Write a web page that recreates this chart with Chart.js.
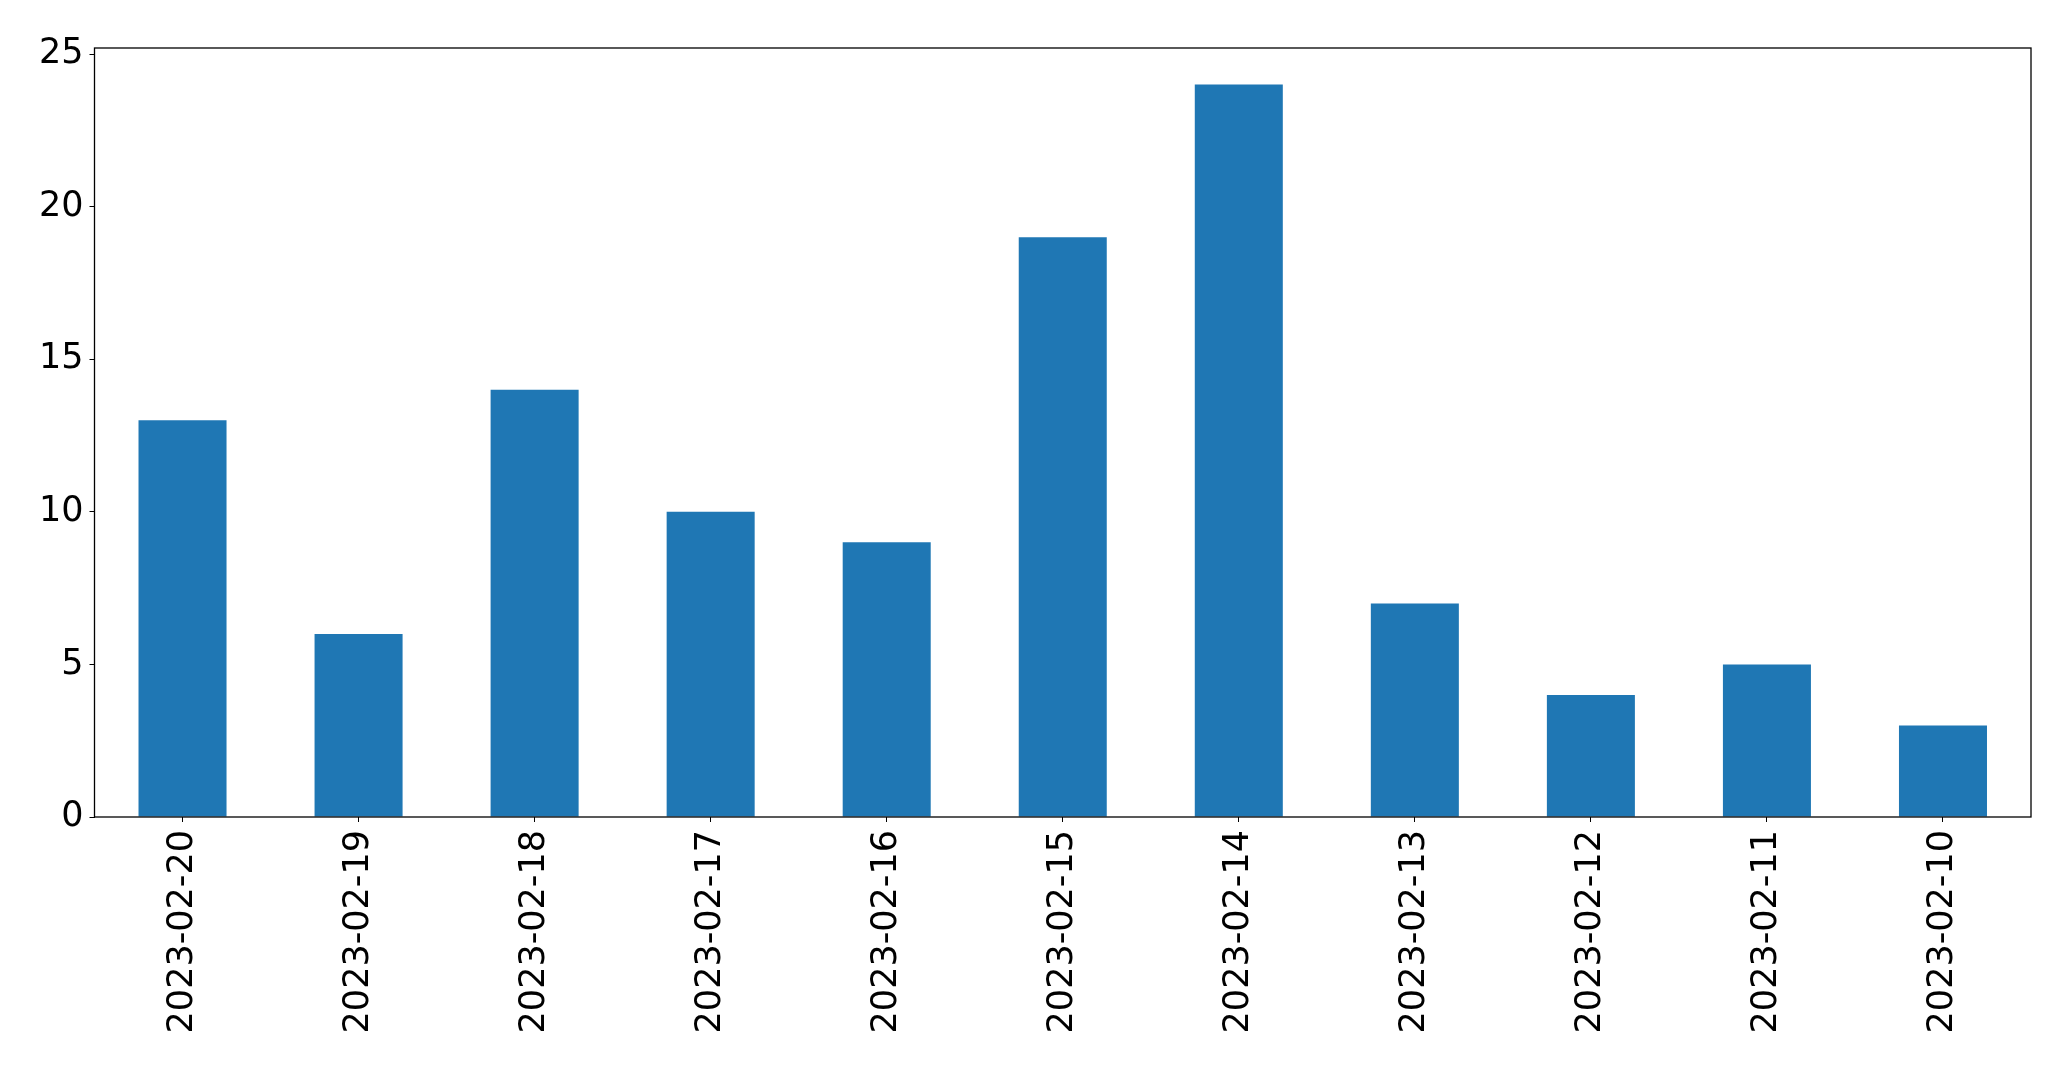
<!DOCTYPE html>
<html>
<head>
<meta charset="utf-8">
<script src="https://cdn.jsdelivr.net/npm/chart.js@4/dist/chart.umd.min.js"></script>
<style>
  html, body { margin: 0; padding: 0; background: #fff; }
  #wrap { width: 2071px; height: 1069px; }
</style>
</head>
<body>
<div id="wrap"><canvas id="chart"></canvas></div>
<script>
// data
const dates = ['2023-02-20', '2023-02-19', '2023-02-18', '2023-02-17', '2023-02-16', '2023-02-15',
  '2023-02-14', '2023-02-13', '2023-02-12', '2023-02-11', '2023-02-10']
const counts = [13, 6, 14, 10, 9, 19, 24, 7, 4, 5, 3]
const yTicks = [0, 5, 10, 15, 20, 25]

Chart.defaults.font.family = 'DejaVu Sans'
Chart.defaults.font.size = 35
Chart.defaults.color = '#000'

// black frame round the plot area
const frame = {
  id: 'frame',
  afterDraw(chart) {
    const a = chart.chartArea
    const c = chart.ctx
    c.save()
    c.strokeStyle = '#000'
    c.lineWidth = 1.3
    c.strokeRect(a.left, a.top, a.right - a.left, a.bottom - a.top)
    c.restore()
  }
}

const ctx = document.getElementById('chart').getContext('2d')
const myChart = new Chart(ctx, {
  type: 'bar',
  data: {
    labels: dates,
    datasets: [{
      data: counts,
      backgroundColor: '#1f77b4',
      barPercentage: 0.5,
      categoryPercentage: 1
    }]
  },
  options: {
    responsive: true,
    maintainAspectRatio: false,
    animation: false,
    layout: { padding: { top: 48, right: 40, left: 0, bottom: 0 } },
    plugins: {
      legend: { display: false },
      tooltip: { enabled: false }
    },
    scales: {
      x: {
        grid: { display: true, offset: false, drawOnChartArea: false, tickLength: 5, color: '#000' },
        border: { display: false },
        ticks: { maxRotation: 90, minRotation: 90, padding: 8, autoSkip: false },
        afterFit: s => { s.height = 252 }
      },
      y: {
        min: 0,
        max: 25.2,
        grid: { display: true, drawOnChartArea: false, tickLength: 5, color: '#000' },
        border: { display: false },
        ticks: { stepSize: 5, includeBounds: false, padding: 6 },
        afterBuildTicks: s => { s.ticks = yTicks.map(v => ({ value: v })) },
        afterFit: s => { s.width = 94.5 }
      }
    }
  },
  plugins: [frame]
})
</script>
</body>
</html>
